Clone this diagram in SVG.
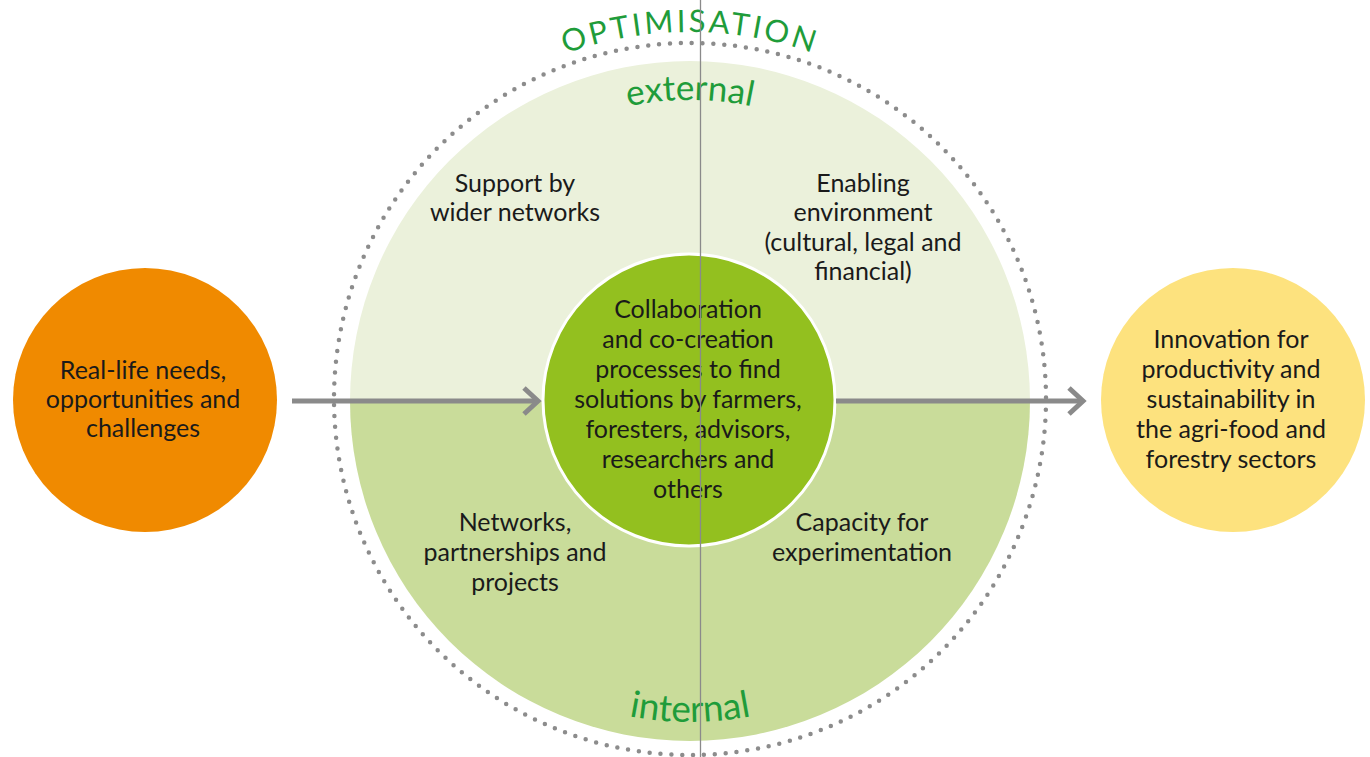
<svg xmlns="http://www.w3.org/2000/svg" width="1370" height="757" viewBox="0 0 1370 757">
  <style>
    .lbl { font-family: Lato, "Open Sans", "Liberation Sans", sans-serif; font-size: 25px; fill: #1a1a1a; text-anchor: middle; }
    .green { font-family: Lato, "Open Sans", "Liberation Sans", sans-serif; fill: #1f9c3a; text-anchor: middle; }
    .conn { stroke: #8a8a8a; stroke-width: 5; fill: none; }
  </style>
  <defs>
    <marker id="chev" markerUnits="userSpaceOnUse" markerWidth="22" markerHeight="32" viewBox="0 0 22 32" refX="17" refY="16" orient="auto">
      <path d="M3,3 L17,16 L3,29" fill="none" stroke="#8a8a8a" stroke-width="5"/>
    </marker>
    <path id="arcOpt" d="M322,400 A368,368 0 0 1 1058,400"/>
    <path id="arcExt" d="M390,400 A300,300 0 0 1 990,400"/>
    <path id="arcInt" d="M368,400 A322,322 0 0 0 1012,400"/>
  </defs>
  <rect width="1370" height="757" fill="#ffffff"/>

  <g id="optimisation-ring">
    <circle cx="690" cy="399" r="356" fill="none" stroke="#8c8c8c" stroke-width="4.5" stroke-linecap="round" stroke-dasharray="0 10.9"/>
    <text class="green" font-size="31" letter-spacing="3"><textPath href="#arcOpt" startOffset="50%">OPTIMISATION</textPath></text>
  </g>

  <g id="external-half">
    <path d="M350,401 A340,340 0 0 1 1030,401 Z" fill="#ebf1db"/>
    <text class="green" font-size="35"><textPath href="#arcExt" startOffset="50%">external</textPath></text>
  </g>

  <g id="internal-half">
    <path d="M350,401 A340,340 0 0 0 1030,401 Z" fill="#c9dc9a"/>
    <text class="green" font-size="37"><textPath href="#arcInt" startOffset="50%">internal</textPath></text>
  </g>

  <g id="support-wider-networks">
    <text class="lbl" x="515" y="192">Support by</text>
    <text class="lbl" x="515" y="221">wider networks</text>
  </g>

  <g id="enabling-environment">
    <text class="lbl" x="863" y="192">Enabling</text>
    <text class="lbl" x="863" y="221">environment</text>
    <text class="lbl" x="863" y="251">(cultural, legal and</text>
    <text class="lbl" x="863" y="280">financial)</text>
  </g>

  <g id="networks-partnerships">
    <text class="lbl" x="515" y="531">Networks,</text>
    <text class="lbl" x="515" y="561">partnerships and</text>
    <text class="lbl" x="515" y="591">projects</text>
  </g>

  <g id="capacity-experimentation">
    <text class="lbl" x="862" y="531">Capacity for</text>
    <text class="lbl" x="862" y="561">experimentation</text>
  </g>

  <g id="collaboration">
    <circle cx="689" cy="400" r="146" fill="#93c01f" stroke="#ffffff" stroke-width="3"/>
    <text class="lbl" x="688" y="318">Collaboration</text>
    <text class="lbl" x="688" y="348">and co-creation</text>
    <text class="lbl" x="688" y="378">processes to find</text>
    <text class="lbl" x="688" y="408">solutions by farmers,</text>
    <text class="lbl" x="688" y="438">foresters, advisors,</text>
    <text class="lbl" x="688" y="468">researchers and</text>
    <text class="lbl" x="688" y="498">others</text>
  </g>

  <g id="real-life-needs">
    <circle cx="145" cy="400" r="132" fill="#f08a00"/>
    <text class="lbl" x="143" y="379">Real-life needs,</text>
    <text class="lbl" x="143" y="408">opportunities and</text>
    <text class="lbl" x="143" y="437">challenges</text>
  </g>

  <g id="innovation">
    <circle cx="1233" cy="400" r="132" fill="#fde27e"/>
    <text class="lbl" x="1231" y="348">Innovation for</text>
    <text class="lbl" x="1231" y="378">productivity and</text>
    <text class="lbl" x="1231" y="408">sustainability in</text>
    <text class="lbl" x="1231" y="438">the agri-food and</text>
    <text class="lbl" x="1231" y="468">forestry sectors</text>
  </g>

  <g id="connectors">
    <line class="conn" x1="292" y1="401" x2="538" y2="401" marker-end="url(#chev)"/>
    <line class="conn" x1="836" y1="401" x2="1083" y2="401" marker-end="url(#chev)"/>
  </g>

  <g id="axis">
    <line x1="700.5" y1="0" x2="700.5" y2="757" stroke="#8a8a8a" stroke-width="1.3"/>
  </g>
</svg>
